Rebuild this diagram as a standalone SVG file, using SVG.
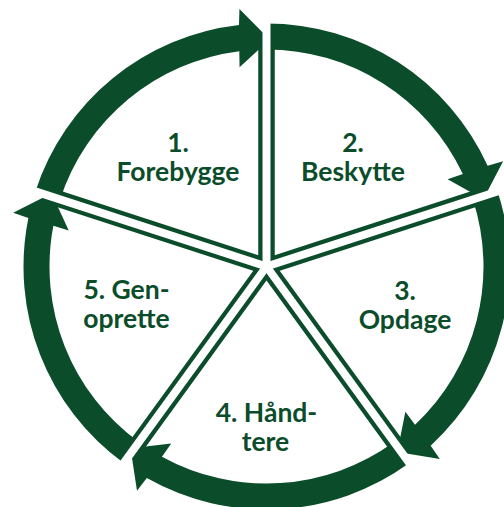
<svg xmlns="http://www.w3.org/2000/svg" xmlns:xlink="http://www.w3.org/1999/xlink" width="504" height="507" viewBox="0 0 504 507">
  <style>
    .band { fill: #0B4D2B; }
    .sepDark { stroke: #0B4D2B; stroke-width: 16.5; stroke-linecap: butt; fill: none; }
    .sepWhite { stroke: #FFFFFF; stroke-width: 8; stroke-linecap: butt; fill: none; }
    .lbl { font-family: Lato, "Open Sans", "Liberation Sans", sans-serif; font-weight: bold; font-size: 26.5px; fill: #0B4D2B; text-anchor: middle; }
  </style>
  <defs>
    <path id="arc" d="M35.39,191.41 A243,243 0 0 1 238.99,25.06 L239.43,8.92 L269.67,39.52 L239.57,67.31 L239.30,51.21 A217,217 0 0 0 60.12,199.44 Z"/>
  </defs>
  <rect width="504" height="507" fill="#FFFFFF"/>
  <g id="connectors">
    <use xlink:href="#arc" class="band"/>
    <use xlink:href="#arc" class="band" transform="rotate(72 266.5 266.5)"/>
    <use xlink:href="#arc" class="band" transform="rotate(144 266.5 266.5)"/>
    <use xlink:href="#arc" class="band" transform="rotate(216 266.5 266.5)"/>
    <use xlink:href="#arc" class="band" transform="rotate(288 266.5 266.5)"/>
  </g>
  <g id="separators">
    <line class="sepDark" x1="266.5" y1="266.5" x2="266.5" y2="41.5"/>
    <line class="sepDark" x1="266.5" y1="266.5" x2="480.49" y2="196.97"/>
    <line class="sepDark" x1="266.5" y1="266.5" x2="398.75" y2="448.53"/>
    <line class="sepDark" x1="266.5" y1="266.5" x2="134.25" y2="448.53"/>
    <line class="sepDark" x1="266.5" y1="266.5" x2="52.51" y2="196.97"/>
    <line class="sepWhite" x1="266.5" y1="266.5" x2="266.5" y2="1.5"/>
    <line class="sepWhite" x1="266.5" y1="266.5" x2="518.53" y2="184.61"/>
    <line class="sepWhite" x1="266.5" y1="266.5" x2="422.26" y2="480.89"/>
    <line class="sepWhite" x1="266.5" y1="266.5" x2="110.74" y2="480.89"/>
    <line class="sepWhite" x1="266.5" y1="266.5" x2="14.47" y2="184.61"/>
  </g>
  <g id="node1">
    <text class="lbl" x="178" y="152">1.</text>
    <text class="lbl" x="178" y="181">Forebygge</text>
  </g>
  <g id="node2">
    <text class="lbl" x="353" y="152">2.</text>
    <text class="lbl" x="353" y="181">Beskytte</text>
  </g>
  <g id="node3">
    <text class="lbl" x="405" y="300">3.</text>
    <text class="lbl" x="405" y="329">Opdage</text>
  </g>
  <g id="node4">
    <text class="lbl" x="266.5" y="422">4. Hånd-</text>
    <text class="lbl" x="265.5" y="451">tere</text>
  </g>
  <g id="node5">
    <text class="lbl" x="126.5" y="299">5. Gen-</text>
    <text class="lbl" x="126.5" y="328">oprette</text>
  </g>
</svg>
